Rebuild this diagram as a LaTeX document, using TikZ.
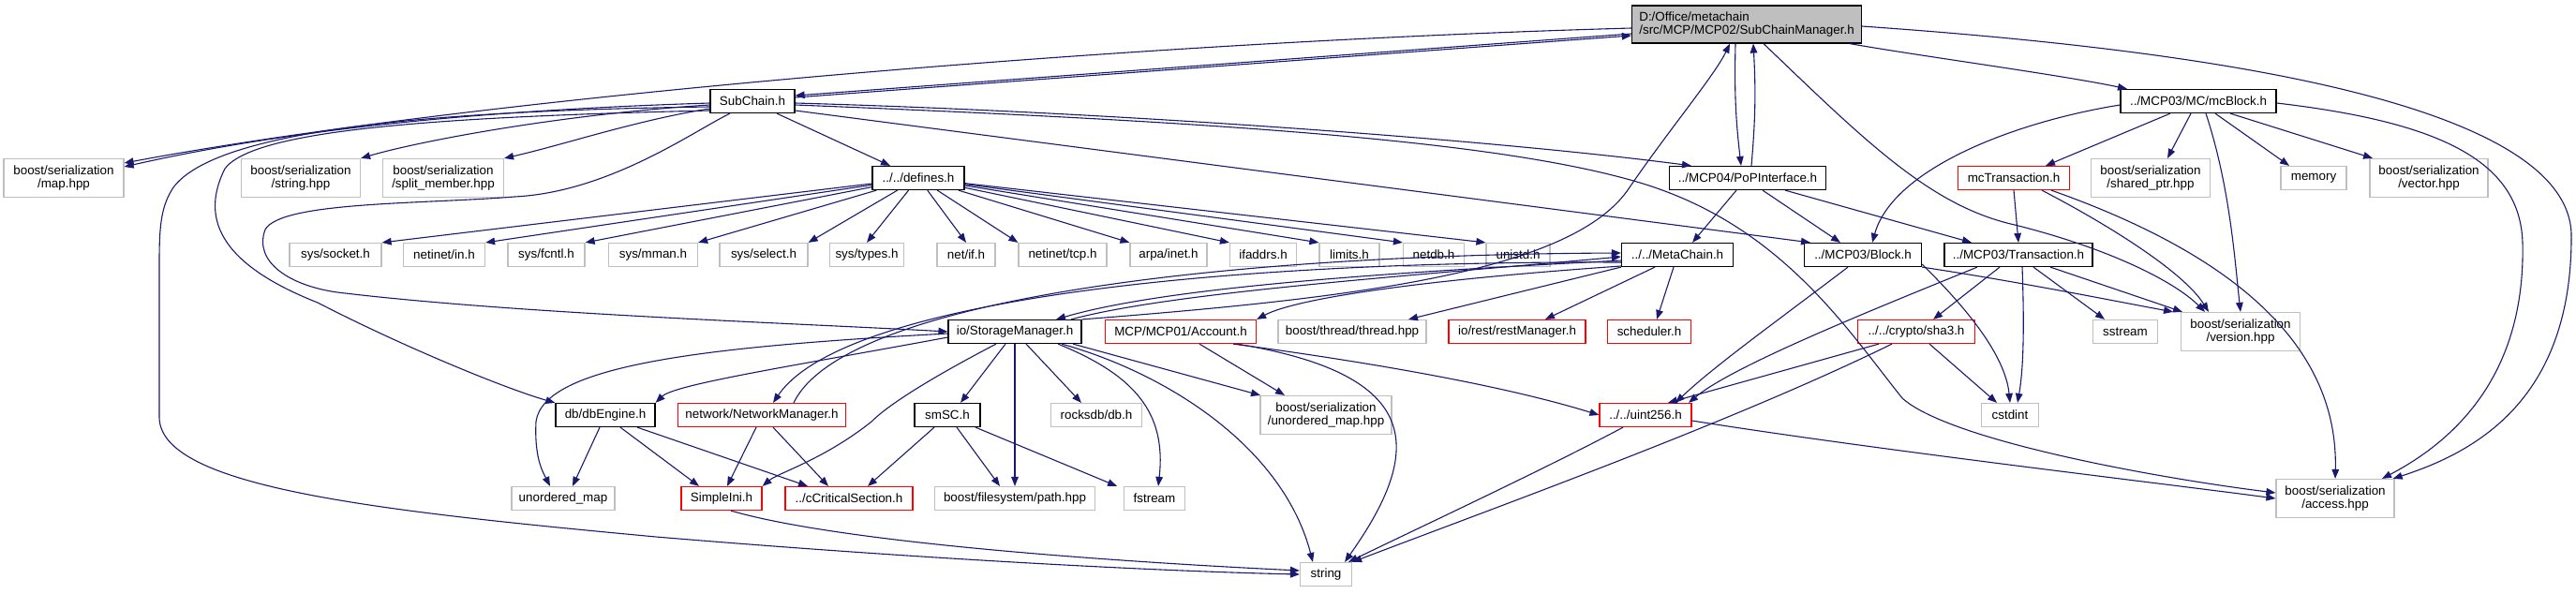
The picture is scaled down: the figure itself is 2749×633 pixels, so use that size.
\documentclass[tikz,border=0pt]{standalone}
\usepackage{fontspec}
\setmainfont{Liberation Sans}
\usetikzlibrary{arrows.meta}
\definecolor{EdgeClr}{rgb}{0.098,0.098,0.439}
\definecolor{ExtClr}{rgb}{0.749,0.749,0.749}
\definecolor{MainClr}{rgb}{0.749,0.749,0.749}

\begin{document}
\begin{tikzpicture}[x=0.5pt,y=-0.5pt,
  box/.style={draw=black,fill=white,line width=0.6pt,minimum height=12.5pt,
    inner xsep=2pt,inner ysep=0pt,font={\fontsize{6.7}{7.2}\selectfont}},
  ext/.style={box,draw=ExtClr},
  trunc/.style={box,draw=red},
  tall/.style={minimum height=20.5pt,align=center},
  incl/.style={draw=EdgeClr,line width=0.55pt,-{Triangle[length=5pt,width=3.8pt]}}]

\useasboundingbox (0,0) rectangle (2749,633);

\node[box,fill=MainClr,align=left,minimum width=122.5pt,minimum height=20pt] (M) at (1864,26) {D:/Office/metachain\\/src/MCP/MCP02/SubChainManager.h};

\node[box,minimum width=45pt] (S) at (803,108) {SubChain.h};
\node[box,minimum width=83pt] (B) at (2346,108) {../MCP03/MC/mcBlock.h};

\node[ext,tall,minimum width=64pt] (mapH) at (68,190) {boost/serialization\\/map.hpp};
\node[ext,tall,minimum width=63.5pt] (strH) at (321,190) {boost/serialization\\/string.hpp};
\node[ext,tall,minimum width=64.5pt] (splitH) at (473,190) {boost/serialization\\/split\_member.hpp};
\node[box,minimum width=49pt] (D) at (980,190) {../../defines.h};
\node[box,minimum width=83.5pt] (P) at (1865,190) {../MCP04/PoPInterface.h};
\node[trunc,minimum width=59.5pt] (mcT) at (2149,190) {mcTransaction.h};
\node[ext,tall,minimum width=63.5pt] (shpH) at (2295,190) {boost/serialization\\/shared\_ptr.hpp};
\node[ext,minimum width=35pt] (memory) at (2469,190) {memory};
\node[ext,tall,minimum width=63pt] (vecH) at (2592,190) {boost/serialization\\/vector.hpp};

\node[ext,minimum width=49pt] (sock) at (358,272) {sys/socket.h};
\node[ext,minimum width=43.5pt] (netin) at (474,272) {netinet/in.h};
\node[ext,minimum width=41pt] (fcntl) at (583,272) {sys/fcntl.h};
\node[ext,minimum width=47.5pt] (mman) at (697,272) {sys/mman.h};
\node[ext,minimum width=47pt] (sel) at (815,272) {sys/select.h};
\node[ext,minimum width=39.5pt] (types) at (925,272) {sys/types.h};
\node[ext,minimum width=31pt] (netif) at (1031,272) {net/if.h};
\node[ext,minimum width=47pt] (tcp) at (1134,272) {netinet/tcp.h};
\node[ext,minimum width=41pt] (arpa) at (1247,272) {arpa/inet.h};
\node[ext,minimum width=35.5pt] (ifad) at (1348,272) {ifaddrs.h};
\node[ext,minimum width=32pt] (limits) at (1440,272) {limits.h};
\node[ext,minimum width=32.5pt] (netdb) at (1530,272) {netdb.h};
\node[ext,minimum width=34pt] (unistd) at (1620,272) {unistd.h};
\node[box,minimum width=59.5pt] (MC) at (1790,272) {../../MetaChain.h};
\node[box,minimum width=62.5pt] (Blk) at (1988,272) {../MCP03/Block.h};
\node[box,minimum width=79pt] (Tx) at (2154,272) {../MCP03/Transaction.h};

\node[box,minimum width=71pt] (SM) at (1083,354) {io/StorageManager.h};
\node[trunc,minimum width=80.5pt] (Acc) at (1260,354) {MCP/MCP01/Account.h};
\node[ext,minimum width=79pt] (thrH) at (1443,354) {boost/thread/thread.hpp};
\node[trunc,minimum width=73pt] (rest) at (1619,354) {io/rest/restManager.h};
\node[trunc,minimum width=44.5pt] (sched) at (1760,354) {scheduler.h};
\node[trunc,minimum width=62.5pt] (sha) at (2045,354) {../../crypto/sha3.h};
\node[ext,minimum width=34.5pt] (sstream) at (2268,354) {sstream};
\node[ext,tall,minimum width=63.5pt] (verH) at (2391,354) {boost/serialization\\/version.hpp};

\node[box,minimum width=53pt] (dbE) at (646,443) {db/dbEngine.h};
\node[trunc,minimum width=89.5pt] (NM) at (813,443) {network/NetworkManager.h};
\node[box,minimum width=35pt] (smSC) at (1011,443) {smSC.h};
\node[ext,minimum width=48.5pt] (rocks) at (1170,443) {rocksdb/db.h};
\node[ext,tall,minimum width=70pt] (umapH) at (1415,443) {boost/serialization\\/unordered\_map.hpp};
\node[trunc,minimum width=49pt] (u256) at (1756,443) {../../uint256.h};
\node[ext,minimum width=30.5pt] (cstdint) at (2145,443) {cstdint};

\node[ext,minimum width=55pt] (umap) at (601,532) {unordered\_map};
\node[trunc,minimum width=43pt] (ini) at (770,532) {SimpleIni.h};
\node[trunc,minimum width=68pt] (crit) at (906,532) {../cCriticalSection.h};
\node[ext,minimum width=85.5pt] (path) at (1083,532) {boost/filesystem/path.hpp};
\node[ext,minimum width=32.5pt] (fstream) at (1232,532) {fstream};
\node[ext,tall,minimum width=63pt] (accH) at (2492,532) {boost/serialization\\/access.hpp};

\node[ext,minimum width=27.5pt] (str) at (1415,613) {string};

\draw[incl] ([yshift=-5pt]M.west) -- ([yshift=3pt]S.east);
\draw[incl] ([yshift=2pt]S.east) -- ([yshift=-6pt]M.west);
\draw[incl] ([yshift=-2pt]M.west) .. controls (1200,45) and (500,105) .. ([yshift=8pt]mapH.east);
\draw[incl] ([xshift=-6pt]M.south) to[bend right=4] ([xshift=-3.5pt]P.north);
\draw[incl] ([xshift=2pt]P.north) to[bend right=4] ([xshift=3.5pt]M.south);
\draw[incl] ([xshift=55pt]M.south) .. controls (2050,60) and (2200,80) .. ([xshift=-38pt]B.north);
\draw[incl] ([yshift=-1pt]M.east) .. controls (2300,50) and (2740,100) .. (2744,250) .. controls (2745,420) and (2650,480) .. ([xshift=-1pt]accH.north east);
\draw[incl] ([xshift=9pt]M.south) .. controls (1990,150) and (2060,220) .. (2150,240) .. controls (2250,265) and (2320,300) .. ([xshift=-19pt]verH.north);

\draw[incl] ([yshift=-1pt]S.west) .. controls (500,118) and (300,140) .. ([yshift=6pt]mapH.east);
\draw[incl] ([yshift=-2pt]S.west) .. controls (600,122) and (450,150) .. (strH.north east);
\draw[incl] ([yshift=-4pt]S.west) .. controls (680,128) and (600,155) .. (splitH.north east);
\draw[incl] ([yshift=-3pt]S.west) .. controls (450,118) and (230,140) .. (185,200) .. controls (172,220) and (170,240) .. (170,280) -- (170,446) .. controls (172,520) and (400,545) .. (700,573) .. controls (1000,598) and (1250,610) .. (str.west);
\draw[incl] ([yshift=-5pt]S.west) .. controls (450,125) and (270,140) .. (240,180) .. controls (215,230) and (230,280) .. (339,323) .. controls (430,370) and (540,415) .. (dbE.north west);
\draw[incl] ([xshift=-12pt]S.south) .. controls (740,140) and (650,205) .. (549,210) .. controls (450,218) and (300,215) .. (283,245) .. controls (270,280) and (310,305) .. (360,312) .. controls (550,335) and (850,345) .. (SM.west);
\draw[incl] ([xshift=13pt]S.south) -- ([xshift=-15pt]D.north);
\draw[incl] ([yshift=-1pt]S.east) .. controls (1200,120) and (1600,150) .. ([xshift=-30pt]P.north);
\draw[incl] ([yshift=-2pt]S.east) .. controls (1300,130) and (1600,150) .. (1750,195) .. controls (1900,240) and (1970,350) .. (2030,425) .. controls (2080,470) and (2300,510) .. ([yshift=3pt]accH.west);
\draw[incl] ([yshift=-5pt]S.east) -- ([xshift=-28pt]Blk.north);

\foreach \h/\a in {sock/north east,netin/north east,fcntl/north east,mman/north east,sel/north east,types/north,netif/north,tcp/north west,arpa/north west,ifad/north west,limits/north west,netdb/north west,unistd/north west}
  \draw[incl] (D) -- (\h.\a);

\draw[incl] ([xshift=-6pt]P.south) -- ([xshift=8pt]MC.north);
\draw[incl] ([xshift=8pt]P.south) -- ([xshift=-12pt]Blk.north);
\draw[incl] ([xshift=20pt]P.south) -- ([xshift=-25pt]Tx.north);

\draw[incl] (SM.north east) .. controls (1450,318) and (1680,290) .. (1739,200) .. controls (1780,140) and (1830,80) .. ([xshift=-9pt]M.south);
\draw[incl] ([yshift=-3pt]MC.west) .. controls (1500,290) and (1250,305) .. ([xshift=22pt]SM.north);
\draw[incl] ([xshift=30pt]SM.north) .. controls (1250,312) and (1500,295) .. ([yshift=-1pt]MC.west);
\draw[incl] ([yshift=-4pt]MC.west) .. controls (1300,278) and (900,320) .. ([xshift=6pt]NM.north);
\draw[incl] ([xshift=17pt]NM.north) .. controls (900,320) and (1300,272) .. ([yshift=1pt]MC.west);
\draw[incl] ([yshift=-6pt]MC.west) .. controls (1500,300) and (1380,320) .. (Acc.north east);
\draw[incl] (MC.south west) -- ([xshift=30pt]thrH.north);
\draw[incl] ([xshift=-12pt]MC.south) -- ([xshift=15pt]rest.north);
\draw[incl] ([xshift=-2pt]MC.south) -- ([xshift=4pt]sched.north);

\draw[incl] ([xshift=10pt]Acc.south) -- ([xshift=-22pt]umapH.north);
\draw[incl] ([xshift=28pt]Acc.south) .. controls (1450,385) and (1600,410) .. (u256.west);
\draw[incl] ([xshift=30pt]Acc.south) .. controls (1520,400) and (1520,480) .. ([xshift=10pt]str.north);

\draw[incl] ([yshift=-3pt]SM.west) .. controls (850,390) and (720,410) .. (dbE.north east);
\draw[incl] ([yshift=-1pt]SM.west) .. controls (750,370) and (580,390) .. (572,450) .. controls (570,490) and (580,505) .. ([xshift=-7pt]umap.north);
\draw[incl] ([xshift=-10pt]SM.south) .. controls (1000,400) and (950,430) .. (930,450) .. controls (880,490) and (830,505) .. (ini.north east);
\draw[incl] ([xshift=-5pt]SM.south) -- ([xshift=7pt]smSC.north);
\draw[incl] (SM.south) -- (path.north);
\draw[incl] ([xshift=6pt]SM.south) -- ([xshift=-8pt]rocks.north);
\draw[incl] ([xshift=23pt]SM.south) .. controls (1210,400) and (1245,440) .. ([xshift=2pt]fstream.north);
\draw[incl] ([xshift=31pt]SM.south) -- ([xshift=-35pt]umapH.north);
\draw[incl] ([xshift=25pt]SM.south) .. controls (1250,400) and (1370,480) .. ([xshift=-7pt]str.north);

\draw[incl] ([xshift=-3pt]dbE.south) -- ([xshift=5pt]umap.north);
\draw[incl] ([xshift=8pt]dbE.south) -- ([xshift=-12pt]ini.north);
\draw[incl] ([xshift=17pt]dbE.south) -- ([xshift=-22pt]crit.north);
\draw[incl] ([xshift=-3pt]NM.south) -- ([xshift=3pt]ini.north);
\draw[incl] ([xshift=6pt]NM.south) -- ([xshift=-11pt]crit.north);
\draw[incl] ([xshift=-7pt]smSC.south) -- ([xshift=10pt]crit.north);
\draw[incl] ([xshift=5pt]smSC.south) -- ([xshift=-8pt]path.north);
\draw[incl] ([xshift=15pt]smSC.south) -- ([xshift=-20pt]fstream.north);
\draw[incl] ([xshift=5pt]ini.south) .. controls (900,580) and (1200,600) .. ([yshift=2pt]str.west);

\draw[incl] ([xshift=-12pt]u256.south) .. controls (1650,500) and (1500,570) .. ([xshift=12pt]str.north);
\draw[incl] ([yshift=-3pt]u256.east) .. controls (2000,480) and (2300,515) .. (accH.west);
\draw[incl] ([xshift=-20pt]sha.south) -- ([xshift=12pt]u256.north);
\draw[incl] ([xshift=-13pt]sha.south) .. controls (1850,450) and (1600,540) .. (str.north east);
\draw[incl] ([xshift=7pt]sha.south) -- ([xshift=-7pt]cstdint.north);

\draw[incl] ([xshift=-10pt]Tx.south) -- ([xshift=9pt]sha.north);
\draw[incl] ([xshift=-22pt]Tx.south) .. controls (2000,330) and (1850,390) .. ([xshift=23pt]u256.north);
\draw[incl] ([xshift=2pt]Tx.south) .. controls (2160,340) and (2160,390) .. ([xshift=4pt]cstdint.north);
\draw[incl] ([xshift=8pt]Tx.south) -- ([xshift=-11pt]sstream.north);
\draw[incl] ([xshift=17pt]Tx.south) -- ([xshift=-31pt]verH.north);
\draw[incl] ([xshift=-8pt]Blk.south) .. controls (1900,340) and (1830,390) .. ([xshift=16pt]u256.north);
\draw[incl] (Blk.south east) .. controls (2150,300) and (2250,320) .. ([xshift=-36pt]verH.north);
\draw[incl] ([yshift=-5pt]Blk.east) .. controls (2100,330) and (2140,380) .. (cstdint.north);

\draw[incl] (mcT.south) -- (Tx.north);
\draw[incl] ([xshift=15pt]mcT.south) .. controls (2250,240) and (2330,290) .. ([xshift=-17pt]verH.north);
\draw[incl] ([xshift=20pt]mcT.south) .. controls (2350,260) and (2496,350) .. (accH.north);

\draw[incl] ([xshift=-15pt]B.south) -- ([xshift=17pt]mcT.north);
\draw[incl] ([xshift=-4pt]B.south) -- ([xshift=9pt]shpH.north);
\draw[incl] ([xshift=4pt]B.south) .. controls (2380,200) and (2385,280) .. (verH.north);
\draw[incl] ([xshift=9pt]B.south) -- ([xshift=-13pt]memory.north);
\draw[incl] ([xshift=17pt]B.south) -- ([xshift=-30pt]vecH.north);
\draw[incl] ([yshift=-1pt]B.east) .. controls (2600,130) and (2690,170) .. (2692,260) .. controls (2695,400) and (2620,470) .. ([xshift=25pt]accH.north);
\draw[incl] ([yshift=-2pt]B.west) .. controls (2150,130) and (2020,180) .. ([xshift=5pt]Blk.north);

\end{tikzpicture}
\end{document}
